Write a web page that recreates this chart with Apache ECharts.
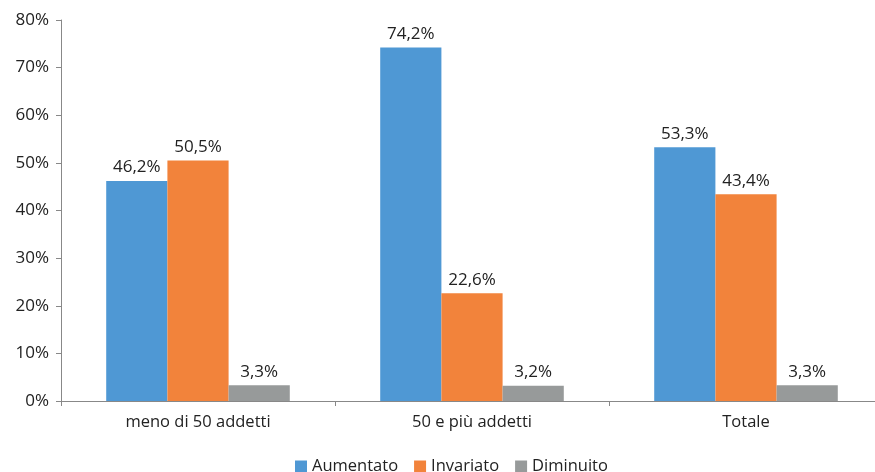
<!DOCTYPE html>
<html lang="it">
<head>
    <meta charset="UTF-8">
    <title>Grafico</title>
    <script src="https://cdn.jsdelivr.net/npm/echarts@6/dist/echarts.min.js"></script>
    <style>
        html, body { margin: 0; padding: 0; background: #fff; overflow: hidden; }
        #main { width: 883px; height: 472px; }
    </style>
</head>
<body>
<div id="main"></div>
<script>
    var categorie = ['meno di 50 addetti', '50 e più addetti', 'Totale'];
    var aumentato = [46.2, 74.2, 53.3];
    var invariato = [50.5, 22.6, 43.4];
    var diminuito = [3.3, 3.2, 3.3];
    var nomiSerie = ['Aumentato', 'Invariato', 'Diminuito'];
    var colori = ['#4f98d4', '#f2833b', '#979a9a'];

    var font = '"Open Sans", "Liberation Sans", sans-serif';

    function etichetta(v) {
        return v.value.toFixed(1).replace('.', ',') + '%';
    }

    function serie(nome, dati, colore) {
        return {
            name: nome,
            type: 'bar',
            data: dati,
            barGap: '0%',
            barCategoryGap: '33%',
            itemStyle: { color: colore },
            label: {
                show: true,
                position: 'top',
                distance: 5,
                formatter: etichetta,
                color: '#222',
                fontSize: 17,
                fontFamily: font
            }
        };
    }

    var myChart = echarts.init(document.getElementById('main'));
    var option = {
        animation: false,
        grid: { left: 61, right: 0, top: 20, bottom: 71 },
        legend: {
            bottom: -8,
            left: 290,
            itemWidth: 12,
            itemHeight: 12,
            itemGap: 16,
            icon: 'rect',
            textStyle: { fontSize: 16.5, color: '#222', fontFamily: font }
        },
        xAxis: {
            type: 'category',
            data: categorie,
            axisLine: { lineStyle: { color: '#888' } },
            axisTick: { show: true, length: 5, lineStyle: { color: '#888' } },
            axisLabel: { fontSize: 16.5, color: '#222', fontFamily: font, margin: 13 }
        },
        yAxis: {
            type: 'value',
            min: 0,
            max: 80,
            interval: 10,
            splitLine: { show: false },
            axisLine: { show: true, lineStyle: { color: '#888' } },
            axisTick: { show: true, length: 5, lineStyle: { color: '#888' } },
            axisLabel: {
                formatter: '{value}%',
                fontSize: 17,
                color: '#222',
                fontFamily: font,
                margin: 12
            }
        },
        series: [
            serie(nomiSerie[0], aumentato, colori[0]),
            serie(nomiSerie[1], invariato, colori[1]),
            serie(nomiSerie[2], diminuito, colori[2])
        ]
    };
    myChart.setOption(option);
</script>
</body>
</html>
